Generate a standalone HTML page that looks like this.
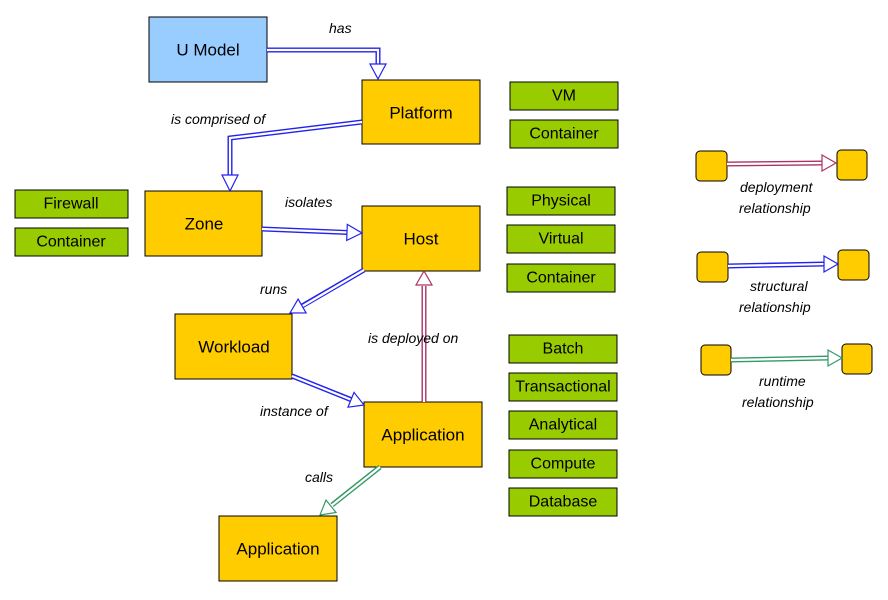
<!DOCTYPE html>
<html><head><meta charset="utf-8"><style>
body{margin:0;background:#fff}
svg text{font-family:"Liberation Sans",sans-serif}
.b{font-size:17px;text-anchor:middle;dominant-baseline:central}
.g{font-size:16px;text-anchor:middle;dominant-baseline:central}
.l{font-size:14px;font-style:italic}
</style></head><body>
<svg width="888" height="595" viewBox="0 0 888 595" xmlns="http://www.w3.org/2000/svg">
<g stroke="#000" stroke-width="1">
<rect x="149" y="17" width="118" height="65" fill="#99ccff"/>
<rect x="362" y="80" width="118" height="64" fill="#ffcc00"/>
<rect x="145" y="191" width="117" height="65" fill="#ffcc00"/>
<rect x="362" y="206" width="118" height="65" fill="#ffcc00"/>
<rect x="175" y="314" width="117" height="65" fill="#ffcc00"/>
<rect x="364" y="402" width="118" height="65" fill="#ffcc00"/>
<rect x="219" y="516" width="118" height="65" fill="#ffcc00"/>
<g fill="#99cc00">
<rect x="510" y="82" width="108" height="28"/><rect x="510" y="120" width="108" height="28"/>
<rect x="15" y="190" width="113" height="28"/><rect x="15" y="228" width="113" height="28"/>
<rect x="507" y="187" width="108" height="28"/><rect x="507" y="225" width="108" height="28"/><rect x="507" y="264" width="108" height="28"/>
<rect x="509" y="335" width="108" height="28"/><rect x="509" y="373" width="108" height="28"/><rect x="509" y="411" width="108" height="28"/><rect x="509" y="450" width="108" height="28"/><rect x="509" y="488" width="108" height="28"/>
</g>
<g fill="#ffcc00">
<rect x="696" y="151" width="31" height="30" rx="4"/><rect x="837" y="150" width="30" height="30" rx="4"/>
<rect x="697" y="252" width="31" height="30" rx="4"/><rect x="838" y="250" width="31" height="30" rx="4"/>
<rect x="701" y="345" width="30" height="30" rx="4"/><rect x="842" y="344" width="30" height="30" rx="4"/>
</g>
</g>
<!-- arrows -->
<g fill="none" stroke-linejoin="miter">
<g stroke="#2222ee" stroke-width="5">
<polyline points="267,50 378,50 378,66"/>
<polyline points="362,122 230,138 230,177"/>
<line x1="262" y1="229" x2="348" y2="232.5"/>
<line x1="364" y1="270" x2="302" y2="306"/>
<line x1="292" y1="376" x2="352" y2="400"/>
<line x1="728" y1="266" x2="825" y2="264"/>
</g>
<g stroke="#aa3366" stroke-width="5">
<line x1="424" y1="402" x2="424" y2="286"/>
<line x1="727" y1="164" x2="823" y2="163"/>
</g>
<g stroke="#339966" stroke-width="5">
<line x1="380" y1="467" x2="332" y2="505"/>
<line x1="731" y1="360" x2="829" y2="358"/>
</g>
<g stroke="#fff" stroke-width="2.2">
<polyline points="267,50 378,50 378,67"/>
<polyline points="362,122 230,138 230,178"/>
<line x1="262" y1="229" x2="349" y2="232.5"/>
<line x1="364" y1="270" x2="301" y2="307"/>
<line x1="292" y1="376" x2="353" y2="400.5"/>
<line x1="728" y1="266" x2="826" y2="264"/>
<line x1="424" y1="402" x2="424" y2="285"/>
<line x1="727" y1="164" x2="824" y2="163"/>
<line x1="380" y1="467" x2="331" y2="506"/>
<line x1="731" y1="360" x2="830" y2="358"/>
</g>
<g fill="#fff" stroke-width="1.2">
<g stroke="#2222ee">
<polygon points="370,64 378,79 386,64"/>
<polygon points="222,175 230,191 238,175"/>
<polygon points="347.3,224.4 362,233 346.7,240.4"/>
<polygon points="306.1,312.9 290,313 298.1,299.1"/>
<polygon points="348,407.2 364,405 354,392.4"/>
<polygon points="824,256 838,264 824,272"/>
</g>
<g stroke="#aa3366">
<polygon points="416,285 424,271 432,285"/>
<polygon points="822,155 836,163 822,171"/>
</g>
<g stroke="#339966">
<polygon points="336,512.5 320,515 326,500"/>
<polygon points="828,350 842,358 828,366"/>
</g>
</g>
</g>
<g fill="#000">
<text class="b" x="208" y="50">U Model</text>
<text class="b" x="421" y="113">Platform</text>
<text class="b" x="204" y="224">Zone</text>
<text class="b" x="421" y="239">Host</text>
<text class="b" x="234" y="347">Workload</text>
<text class="b" x="423" y="435">Application</text>
<text class="b" x="278" y="549">Application</text>
<text class="g" x="564" y="96">VM</text>
<text class="g" x="564" y="134">Container</text>
<text class="g" x="71" y="204">Firewall</text>
<text class="g" x="71" y="242">Container</text>
<text class="g" x="561" y="201">Physical</text>
<text class="g" x="561" y="239">Virtual</text>
<text class="g" x="561" y="278">Container</text>
<text class="g" x="563" y="349">Batch</text>
<text class="g" x="563" y="387">Transactional</text>
<text class="g" x="563" y="425">Analytical</text>
<text class="g" x="563" y="464">Compute</text>
<text class="g" x="563" y="502">Database</text>
<text class="l" x="329" y="33">has</text>
<text class="l" x="171" y="124">is comprised of</text>
<text class="l" x="285" y="207">isolates</text>
<text class="l" x="260" y="294">runs</text>
<text class="l" x="368" y="343">is deployed on</text>
<text class="l" x="260" y="416">instance of</text>
<text class="l" x="305" y="482">calls</text>
<text class="l" x="740" y="192">deployment</text>
<text class="l" x="739" y="213">relationship</text>
<text class="l" x="750" y="291">structural</text>
<text class="l" x="739" y="312">relationship</text>
<text class="l" x="759" y="386">runtime</text>
<text class="l" x="742" y="407">relationship</text>
</g>
</svg>
</body></html>
